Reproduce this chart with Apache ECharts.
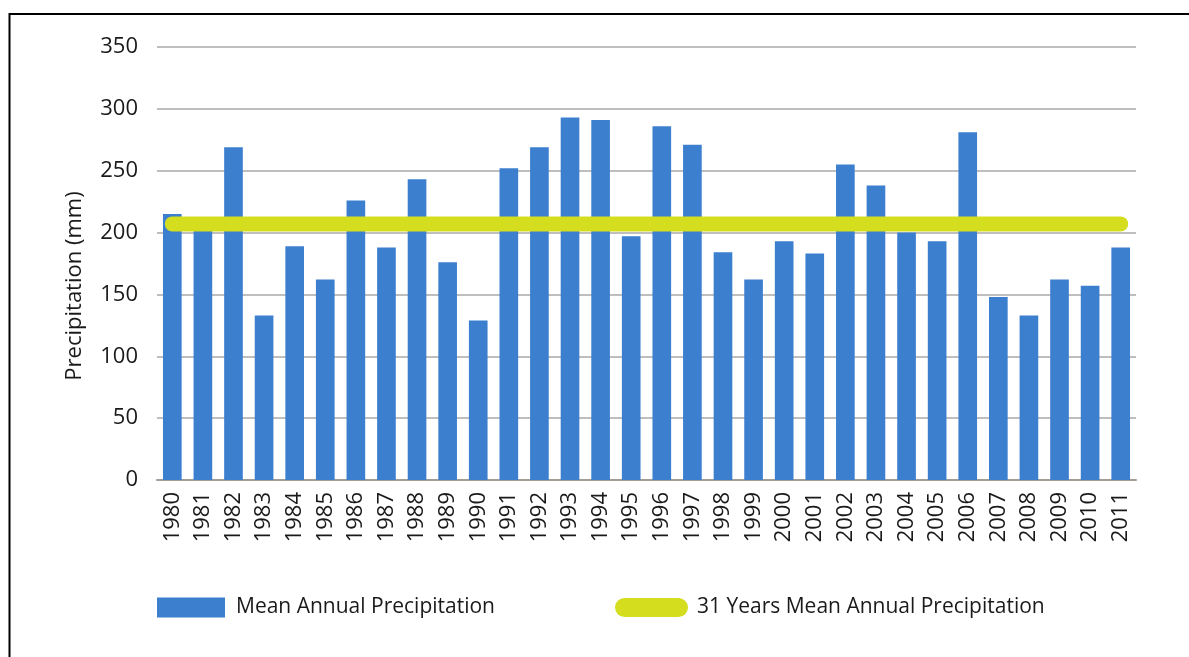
<!DOCTYPE html>
<html>
<head>
<meta charset="utf-8">
<script src="https://cdn.jsdelivr.net/npm/echarts@6/dist/echarts.min.js"></script>
<style>
  html, body { margin: 0; padding: 0; background: #fff; }
  #chart { width: 1189px; height: 657px; }
</style>
</head>
<body>
<div id="chart"></div>
<script>
const years = ['1980','1981','1982','1983','1984','1985','1986','1987','1988','1989','1990',
  '1991','1992','1993','1994','1995','1996','1997','1998','1999','2000',
  '2001','2002','2003','2004','2005','2006','2007','2008','2009','2010','2011'];
const precipitation = [215, 202, 269, 133, 189, 162, 226, 188, 243, 176, 129,
  252, 269, 293, 291, 197, 286, 271, 184, 162, 193,
  183, 255, 238, 200, 193, 281, 148, 133, 162, 157, 188];
const meanLine = [['1980', 207], ['2011', 207]];
const yTicks = { min: 0, max: 350, interval: 50 };
const barName = 'Mean Annual Precipitation';
const meanName = '31 Years Mean Annual Precipitation';
const yTitle = 'Precipitation (mm)';

const FONT = '"Open Sans", "Noto Sans", sans-serif';
const BLUE = '#3c7fcf';
const YELLOW = '#d4de1e';

const chart = echarts.init(document.getElementById('chart'), null, { renderer: 'canvas' });
chart.setOption({
  animation: false,
  backgroundColor: '#fff',
  grid: { left: 157, right: 53, top: 47, bottom: 177, containLabel: false },
  xAxis: {
    type: 'category',
    data: years,
    boundaryGap: true,
    axisTick: { show: false },
    axisLine: { show: true, lineStyle: { color: '#a39c94', width: 2 } },
    axisLabel: { rotate: 90, margin: 12, fontSize: 22, color: '#1a1a1a', fontFamily: FONT, interval: 0 }
  },
  yAxis: {
    type: 'value',
    min: yTicks.min, max: yTicks.max, interval: yTicks.interval,
    axisLine: { show: false },
    axisTick: { show: false },
    splitLine: { lineStyle: { color: '#a8a8a8', width: 1.5 } },
    axisLabel: { margin: 19, fontSize: 22, color: '#1a1a1a', fontFamily: FONT }
  },
  legend: [
    {
      left: 157, top: 597, padding: 0,
      itemWidth: 68, itemHeight: 20,
      textStyle: { fontSize: 21, color: '#1a1a1a', fontFamily: FONT, padding: [0, 0, 0, 6] },
      data: [{ name: barName, icon: 'rect' }]
    },
    {
      left: 615, top: 597, padding: 0,
      itemWidth: 73, itemHeight: 19,
      textStyle: { fontSize: 21, color: '#1a1a1a', fontFamily: FONT, padding: [0, 0, 0, 4] },
      data: [{ name: meanName, icon: 'path://M9.5,0 H63.5 A9.5,9.5 0 0 1 63.5,19 H9.5 A9.5,9.5 0 0 1 9.5,0 Z' }]
    }
  ],
  graphic: [
    {
      type: 'text',
      x: 75, y: 286,
      rotation: Math.PI / 2,
      style: { text: yTitle, fontSize: 22, fontFamily: FONT, fill: '#1a1a1a', align: 'center', verticalAlign: 'middle' }
    },
    {
      type: 'rect',
      shape: { x: 9.5, y: 14, width: 1200, height: 700 },
      style: { fill: 'none', stroke: '#000', lineWidth: 2 },
      silent: true
    }
  ],
  series: [
    {
      name: barName,
      type: 'bar',
      data: precipitation,
      barWidth: '61%',
      itemStyle: { color: BLUE }
    },
    {
      name: meanName,
      type: 'line',
      data: meanLine,
      symbol: 'none',
      z: 5,
      itemStyle: { color: YELLOW },
      lineStyle: { color: YELLOW, width: 15, cap: 'round' }
    }
  ]
});
</script>
</body>
</html>
